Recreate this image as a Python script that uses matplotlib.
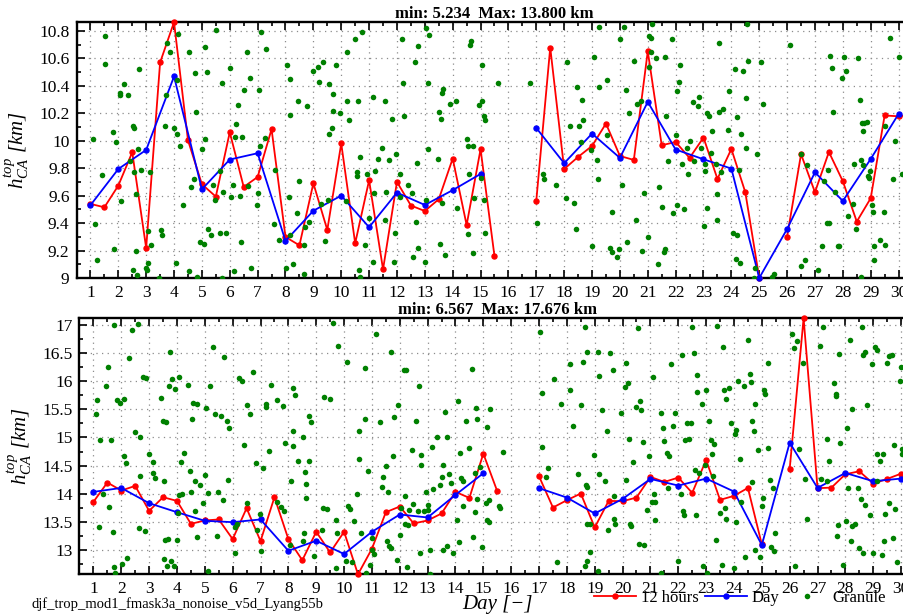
import numpy as np
import matplotlib
matplotlib.use("Agg")
import matplotlib.pyplot as plt
from matplotlib.ticker import MultipleLocator, FuncFormatter
from matplotlib.lines import Line2D

plt.rcParams['font.family'] = ['Liberation Serif', 'DejaVu Serif']
plt.rcParams['mathtext.fontset'] = 'custom'
plt.rcParams['mathtext.rm'] = 'Liberation Serif'
plt.rcParams['mathtext.it'] = 'Liberation Serif:italic'
plt.rcParams['mathtext.bf'] = 'Liberation Serif:bold'

nan = np.nan

# ---------------- data ----------------
day_ticks = list(range(1, 31))
half_days = np.arange(1, 31, 0.5)      # 12-hour bins: 1.0 ... 30.5
full_days = np.arange(1, 31)           # daily bins: 1 ... 30

title_top = "min: 5.234  Max: 13.800 km"
title_bot = "min: 6.567  Max: 17.676 km"
run_name = "djf_trop_mod1_fmask3a_nonoise_v5d_Lyang55b"

# upper panel: 12-hour means
h12_top = [9.54, 9.515, 9.673, 9.916, 9.219, 10.57, 10.864, 10.004, 9.683, 9.593,
           10.062, 9.663, 9.736, 10.084, 9.299, 9.238, 9.69, 9.35, 9.98, 9.253,
           9.712, 9.063, 9.70, 9.528, 9.488, 9.574, 9.87, 9.386, 9.938, 9.158,
           nan, nan, 9.564, 10.679, 9.794, 9.882, 9.962, 10.125, 9.889, 9.86,
           10.652, 9.967, 9.991, 9.875, 10.023, 9.722, 9.94, 9.625, 9.0, nan,
           9.301, 9.902, 9.625, 9.918, 9.705, 9.411, 9.581, 10.184, 10.178, 10.19]
# upper panel: daily means
day_top = [9.53, 9.794, 9.933, 10.468, 9.646, 9.863, 9.909, 9.27, 9.49, 9.60,
           9.37, 9.622, 9.532, 9.64, 9.758, nan, 10.093, 9.836, 10.052, 9.875,
           10.283, 9.936, 9.865, 9.797, 9.0, 9.357, 9.77, 9.561, 9.867, 10.195]

# lower panel: 12-hour means
h12_bot = [13.856, 14.2, 14.058, 14.14, 13.697, 13.939, 13.874, 13.466, 13.526, 13.544,
           13.195, 13.744, 13.16, 13.939, 13.195, 12.82, 13.325, 12.958, 13.325, 12.57,
           13.024, 13.673, 13.774, 13.473, 13.526, 13.65, 14.034, 13.927, 14.713, 14.046,
           nan, nan, 14.311, 13.756, 13.886, 14.005, 13.402, 13.874, 13.868, 13.933,
           14.3, 14.21, 14.288, 14.016, 14.6, 13.892, 13.963, 14.104, 13.1, nan,
           14.44, 17.117, 14.099, 14.11, 14.347, 14.4, 14.181, 14.264, 14.358, 14.3]
# lower panel: daily means
day_bot = [14.034, 14.104, 13.833, 13.673, 13.52, 13.496, 13.544, 12.988, 13.166, 12.93,
           13.325, 13.632, 13.579, 13.98, 14.365, nan, 14.1, 13.933, 13.65, 13.909,
           14.264, 14.146, 14.27, 14.04, 13.089, 14.908, 14.104, 14.37, 14.223, 14.27]

# granule values (day, height in km)
gran_top = [
    (1.11,10.01),(1.17,9.39),(1.23,9.13),(1.51,10.76),(1.53,10.56),(1.42,9.75),(1.81,10.06),(1.92,9.99),
    (1.86,9.21),(2.06,10.35),(2.06,10.33),(2.21,10.41),(2.11,9.56),(2.36,10.33),(2.41,9.85),(2.51,10.11),
    (2.57,10.09),(2.56,9.77),(2.62,9.61),(2.62,9.20),(2.51,9.06),(2.66,9.02),(2.76,10.52),(2.71,9.94),
    (2.82,9.79),(3.12,9.77),(3.06,9.34),(3.17,9.24),(2.99,9.07),(3.03,9.06),(3.06,9.11),(3.45,9.0),
    (3.52,9.35),(3.57,9.31),(3.66,10.11),(3.72,10.33),(3.76,10.71),(3.86,10.65),(4.16,10.78),(4.00,10.09),
    (4.10,10.05),(4.12,10.44),(4.22,9.96),(4.06,9.11),(4.31,9.53),(4.55,10.65),(4.61,9.66),(4.55,9.05),
    (4.70,9.72),(4.77,10.49),(4.78,10.21),(4.82,9.01),(4.94,9.26),(5.01,9.94),(5.06,9.25),(5.11,10.01),
    (5.11,10.68),(5.17,10.50),(5.22,9.36),(5.32,9.31),(5.51,10.81),(5.41,9.68),(5.46,9.57),(5.65,9.78),
    (5.71,10.42),(5.65,9.33),(5.75,9.63),(5.71,9.0),(5.87,9.33),(6.02,10.53),(6.06,9.59),(6.11,9.68),
    (6.17,10.03),(6.22,10.12),(6.16,9.05),(6.31,10.26),(6.37,9.60),(6.41,9.26),(6.45,10.03),(6.51,10.37),
    (6.61,10.65),(6.66,9.67),(6.72,10.46),(6.75,9.07),(6.97,9.53),(7.03,9.62),(7.08,9.96),(7.06,10.37),
    (7.11,10.79),(7.30,10.67),(7.28,10.02),(7.57,9.39),(7.63,9.79),(7.76,9.28),(8.01,9.07),(8.07,10.55),
    (8.12,9.59),(8.17,10.45),(8.17,10.19),(8.15,9.31),(8.28,9.10),(8.40,9.47),(8.46,10.29),(8.49,9.71),
    (8.76,10.25),(8.70,9.37),(8.66,9.24),(8.66,9.03),(9.0,10.51),(9.18,10.54),(9.36,10.57),(9.21,10.43),
    (9.26,9.54),(9.42,9.27),(9.51,9.57),(8.85,9.41),(9.57,10.05),(9.66,10.09),(9.72,10.34),(9.57,10.41),
    (9.72,10.22),(9.81,10.55),(9.96,10.20),(10.16,9.56),(10.22,10.29),(10.22,10.65),(10.27,10.15),(10.51,10.74),
    (10.76,10.79),(10.61,10.29),(10.67,9.88),(10.55,9.77),(10.58,9.74),(10.63,9.06),(10.67,9.01),(10.86,9.24),
    (10.91,9.76),(11.01,9.44),(11.15,10.32),(11.18,9.62),(11.21,9.78),(11.13,9.12),(11.31,9.87),(11.46,9.95),
    (11.57,10.29),(11.56,9.42),(11.61,9.63),(11.71,9.86),(11.82,10.16),(11.89,9.12),(11.93,9.33),(11.96,9.90),
    (12.11,9.76),(12.11,9.59),(12.17,10.74),(12.23,10.42),(12.26,10.18),(12.41,9.68),(12.55,9.62),(12.56,9.15),
    (12.66,10.57),(12.67,9.41),(12.71,9.84),(12.75,10.69),(12.75,9.22),(13.0,9.12),(13.04,9.57),(13.05,10.82),
    (13.16,10.77),(13.11,10.42),(13.11,9.94),(13.46,9.87),(13.52,10.21),(13.57,10.16),(13.60,10.35),(13.66,10.38),
    (13.56,9.25),(13.62,9.55),(13.71,9.17),(13.91,10.27),(14.12,10.29),(14.17,9.51),(14.50,10.01),(14.56,9.96),
    (14.72,9.96),(14.60,9.76),(14.56,9.32),(14.61,10.70),(14.66,10.73),(14.72,9.18),(14.76,9.58),(14.94,10.26),
    (15.02,9.73),(15.06,10.55),(15.06,10.29),(15.12,10.18),(15.17,10.15),(15.11,9.57),(15.16,9.33),(15.63,10.42),
    (16.77,10.42),(17.01,9.40),(17.25,9.76),(17.28,9.72),(17.71,9.68),(18.09,10.57),(18.05,9.58),(18.21,10.11),
    (18.36,9.55),(18.42,9.36),(18.45,10.39),(18.54,10.11),(18.63,10.30),(18.66,10.15),(18.60,9.99),(18.95,9.93),
    (19.01,9.23),(19.07,10.61),(19.18,9.86),(19.20,9.72),(19.25,10.83),(19.25,10.39),
    (19.52,10.44),(19.55,10.04),(19.70,9.48),(19.64,9.22),(19.73,9.19),(19.97,9.21),(19.91,9.15),(20.0,10.74),
    (20.16,10.83),(20.22,10.37),(20.06,9.68),(20.31,10.20),(20.27,9.26),(20.51,10.58),(20.57,9.42),(20.60,10.27),
    (20.74,10.29),(20.86,9.62),(20.80,9.20),(21.06,10.76),(21.10,10.75),(21.14,10.85),(21.10,10.65),(21.06,10.54),
    (21.02,9.30),(21.29,10.60),(21.41,9.66),(21.51,9.52),(21.35,9.10),(21.58,9.19),(21.62,9.21),(21.63,10.61),
    (21.65,10.18),(21.73,9.85),(21.87,10.74),(21.90,9.47),(22.01,10.04),(22.04,10.36),(22.06,9.53),(22.12,10.43),
    (22.16,10.55),(22.22,9.83),(22.31,9.50),(22.42,9.95),(22.46,9.76),(22.50,10.0),(22.61,10.28),(22.66,9.85),
    (22.81,10.25),(22.85,10.32),(22.90,9.95),(23.02,9.38),(23.06,9.78),(23.06,9.83),(23.11,9.51),(23.14,10.20),
    (23.21,10.18),(23.27,9.91),(23.32,10.07),(23.45,9.83),(23.50,9.61),(23.50,9.42),(23.56,10.71),(23.56,10.21),
    (23.62,9.77),(23.71,10.23),(23.87,10.08),(23.91,10.36),(24.05,9.33),(24.13,10.52),(24.19,10.17),(24.21,9.31),
    (24.17,9.14),(24.27,9.79),(24.31,9.11),(24.36,10.05),(24.40,10.51),(24.51,9.95),(24.52,10.31),(24.55,10.85),
    (24.61,10.58),(24.81,9.0),(24.86,9.07),(24.91,9.90),(25.06,10.57),(25.15,10.27),(25.47,9.01),(25.53,9.03),
    (26.10,10.70),(26.50,9.90),(26.70,9.82),(26.51,9.09),(26.65,9.13),(27.11,9.06),(27.25,9.23),(27.32,9.71),
    (27.44,9.40),(27.52,9.40),(27.47,9.79),(27.55,10.62),(27.61,10.53),(27.66,10.21),(27.72,9.63),(27.81,9.23),
    (27.85,9.23),(27.97,10.46),(28.05,10.61),(28.11,10.51),(28.20,9.45),(28.35,9.54),(28.40,9.83),(28.47,9.36),
    (28.56,10.60),(28.60,10.30),(28.65,9.86),(28.69,10.13),(28.74,9.82),(28.76,10.13),(28.71,10.07),(28.85,10.14),
    (28.90,9.74),(28.93,9.73),(28.97,9.78),(29.03,9.53),(29.09,9.48),(29.12,9.23),(29.12,9.13),(29.33,9.28),
    (29.48,9.48),(29.51,9.24),(29.52,10.11),(29.69,10.75),(29.81,9.72),(29.86,10.0),(30.03,10.61),(30.11,9.76),
    (28.65,9.01),
]

gran_bot = [
    (1.74,17.0),(2.59,17.01),(2.39,16.91),(2.29,16.41),(1.53,16.26),(1.44,15.92),(1.14,15.66),(1.09,15.42),
    (1.23,14.95),(1.64,14.96),(1.19,13.41),(1.56,13.76),(1.33,14.0),(1.70,13.32),(1.75,12.70),(1.79,12.59),
    (1.83,15.67),(1.94,15.61),(2.09,15.69),(2.09,14.68),(2.18,14.54),(2.19,12.86),(2.03,12.76),(2.49,15.10),
    (2.68,15.0),(2.67,14.31),(2.64,13.40),(2.84,13.34),(2.78,16.08),(2.87,16.05),(2.98,14.71),(3.14,14.56),
    (3.14,14.37),(3.22,14.28),(3.44,15.70),(3.50,15.30),(3.61,15.27),(3.53,14.23),(3.54,12.85),(3.58,13.18),
    (3.66,13.19),(3.63,12.72),(3.72,15.92),(3.75,16.51),(3.82,16.04),(3.93,15.86),(3.80,12.80),(3.89,12.72),
    (3.99,13.18),(4.02,13.65),(4.07,13.98),(4.18,13.99),(4.09,16.08),(4.13,14.57),(4.27,14.73),(4.38,15.93),
    (4.48,14.40),(4.52,14.04),(4.54,15.32),(4.58,15.62),(4.64,14.23),(4.63,13.70),(4.73,15.60),(4.73,13.24),
    (4.84,14.16),(4.93,13.83),(4.99,14.33),(5.06,15.53),(5.13,14.02),(5.13,12.63),(5.18,15.91),(5.28,16.60),
    (5.37,15.42),(5.43,13.25),(5.48,14.03),(5.58,15.39),(5.67,13.89),(5.68,16.43),(5.78,15.30),(5.85,14.24),
    (5.88,15.16),(6.07,12.95),(6.09,13.41),(6.14,13.46),(6.21,16.06),(6.33,16.01),(6.39,14.86),(6.52,15.58),
    (6.51,13.84),(6.64,15.42),(6.74,16.17),(6.82,14.55),(6.88,13.35),(6.98,13.64),(7.00,12.99),(7.10,14.46),
    (7.18,15.54),(7.18,15.60),(7.29,14.76),(7.38,15.93),(7.58,15.66),(7.58,13.86),(7.73,13.76),(7.80,15.56),
    (7.83,13.70),(7.89,14.90),(8.06,13.09),(8.09,14.22),(8.18,15.88),(8.24,15.76),(8.16,15.11),(8.18,14.85),
    (8.36,14.59),
    (8.53,15.0),(8.59,14.38),(8.64,14.18),(8.63,13.92),(8.74,14.59),(8.74,15.38),(8.83,15.27),(8.56,13.30),
    (8.54,13.17),(8.93,12.89),(9.19,13.36),(9.28,15.72),(9.49,15.68),(9.24,13.74),(9.40,13.73),(9.61,17.03),
    (9.79,16.63),(9.70,13.53),(9.70,12.68),(9.76,13.30),(10.09,16.34),(10.13,13.79),(10.23,13.73),(10.07,12.80),
    (10.28,12.78),(10.35,13.52),(10.45,14.0),(10.55,14.61),(10.55,15.11),(10.59,13.31),(10.75,16.24),(10.75,15.33),
    (10.85,14.41),(10.80,12.60),(10.93,12.73),(11.02,13.21),(10.99,13.0),(11.07,12.93),(11.16,16.83),(11.29,15.27),
    (11.35,14.12),(11.38,14.29),(11.49,14.49),(11.59,14.03),(11.55,13.17),(11.62,13.07),(11.67,13.03),(11.74,14.67),
    (11.68,16.51),(11.80,15.36),(11.95,15.58),(11.89,12.82),(12.01,13.27),(12.04,13.74),(12.15,16.19),(12.22,16.20),
    (12.20,13.96),(12.20,13.46),(12.30,13.45),(12.25,12.70),(12.34,13.71),(12.44,14.77),(12.48,13.82),(12.58,15.29),
    (12.64,13.70),(12.69,15.92),(12.74,12.95),(12.78,14.69),(12.78,14.51),(12.88,13.70),(12.94,14.03),(13.02,13.80),
    (13.0,13.71),(13.08,13.0),(13.10,12.57),(13.14,14.83),(13.20,14.08),(13.35,15.0),(13.44,14.15),(13.50,14.29),
    (13.56,14.52),(13.56,13.0),(13.63,15.46),(13.68,15.0),(13.69,13.08),(13.75,14.36),(13.84,14.19),(13.90,12.95),
    (14.04,13.53),(14.09,15.65),(14.14,13.15),(14.18,14.72),(14.21,14.28),(14.26,14.23),(14.28,13.78),(14.38,15.29),
    (14.48,14.82),(14.58,16.21),(14.63,13.23),(14.69,14.37),(14.72,15.53),(14.69,13.68),(14.78,15.32),(14.76,13.90),
    (14.89,14.47),(14.94,13.05),(15.09,13.84),(15.13,15.18),(15.14,13.53),(15.20,13.89),(15.24,15.50),(15.20,13.50),
    (15.55,13.79),(15.59,13.74),(15.69,14.74),(17.03,16.88),(17.12,14.83),(17.11,15.79),(17.25,14.29),(17.33,14.45),
    (17.54,16.04),(17.63,12.79),(17.79,15.59),(18.10,16.30),(18.13,15.85),(18.21,15.20),(18.39,14.36),(18.49,15.58),
    (18.59,16.34),(18.65,16.96),(18.67,14.16),(18.73,16.51),(18.73,14.12),(18.73,13.47),(18.71,12.81),(18.65,12.72),
    (18.83,12.96),(18.83,13.47),(18.97,14.69),(19.10,16.51),(19.16,16.10),(19.15,14.36),(19.13,12.62),
    (19.55,16.50),(19.64,16.20),(19.25,15.48),(19.45,15.11),(19.37,14.22),(19.69,13.96),(19.69,13.56),(19.73,13.46),
    (19.49,13.35),(19.95,15.43),(20.08,15.89),(20.14,16.33),(20.18,15.97),(20.14,14.25),(20.22,14.98),(20.26,13.46),
    (20.30,13.43),(20.38,14.57),(20.50,15.55),(20.54,16.94),(20.62,15.65),(20.65,15.49),(20.60,13.10),(20.78,13.09),
    (20.72,14.92),(20.86,13.71),(20.96,14.67),(21.08,16.08),(21.13,13.99),(21.04,13.86),(21.16,13.85),(21.15,13.53),
    (21.37,12.60),(21.38,15.44),(21.44,15.17),(21.48,14.93),(21.58,14.72),(21.68,14.67),(21.64,14.10),(21.74,16.31),
    (21.80,15.20),(21.89,15.43),(22.00,12.81),(22.08,14.0),(22.14,16.47),(22.18,13.70),(22.20,13.63),(22.24,14.96),
    (22.32,15.26),(22.39,14.97),(22.44,15.25),(22.49,16.96),(22.56,16.50),(22.60,14.43),(22.62,13.63),(22.66,15.80),
    (22.69,16.11),(22.75,14.37),(22.84,15.60),(22.90,12.72),(22.99,15.84),(23.10,15.30),(23.04,12.60),(22.97,14.52),
    (23.18,14.95),(23.21,14.70),(23.26,14.32),(23.29,14.88),(23.35,13.18),(23.40,16.98),(23.50,13.65),(23.57,12.73),
    (23.60,16.60),(23.64,15.84),(23.67,13.74),(23.71,13.56),(23.73,15.68),(23.81,15.88),(23.89,15.26),(24.0,12.68),
    (24.03,15.07),(24.07,15.13),(24.09,13.50),(24.14,16.0),(24.21,14.62),(24.25,13.85),(24.36,15.92),(24.40,12.88),
    (24.49,16.74),(24.56,16.12),(24.61,15.98),(24.64,14.21),(24.66,15.29),(24.72,15.11),(24.75,15.59),(24.74,13.0),
    (24.85,14.78),(24.94,12.88),(25.0,13.79),(25.04,13.93),(25.09,15.85),(25.12,15.78),(25.21,16.32),(25.21,14.82),
    (25.29,14.24),(25.34,13.06),(25.43,12.98),(25.49,13.31),(25.41,14.11),(26.08,16.83),(26.15,16.59),(26.25,16.71),
    (26.34,14.80),(26.20,12.72),(26.49,16.33),(26.54,14.27),(26.63,13.56),(27.09,16.63),(27.19,16.97),(27.13,14.26),
    (27.33,14.22),(27.35,14.98),(27.40,14.58),(27.59,15.97),(27.65,15.78),(27.68,15.74),(27.71,13.25),(27.75,13.44),
    (27.76,16.48),(27.80,14.90),(27.90,12.74),(28.02,13.51),(28.06,15.17),(28.09,14.10),(28.16,16.74),(28.19,13.17),
    (28.25,15.50),(28.25,13.43),(28.34,13.47),(28.44,14.11),(28.50,13.04),(28.55,13.90),(28.60,16.97),(28.62,16.46),
    (28.70,16.51),(28.70,13.80),(28.64,12.94),(28.79,15.58),(28.88,13.63),(28.95,16.31),(29.0,12.94),(29.07,16.61),
    (29.15,16.56),(29.15,14.22),(29.12,14.71),(29.24,14.58),(29.31,12.91),(29.36,14.70),(29.42,13.64),(29.40,13.16),
    (29.50,16.32),(29.55,16.44),(29.58,13.84),(29.67,16.46),(29.70,13.21),(29.74,14.87),(29.79,13.73),(29.86,12.79),
    (29.96,16.01),(30.0,16.25),(30.02,14.71),(30.05,14.79),
]

# ---------------- figure ----------------
W, H = 904, 615
fig = plt.figure(figsize=(W / 100, H / 100), dpi=100)
fig.patch.set_facecolor('white')

RED, BLUE, GREEN = '#ff0000', '#0000ff', '#008000'
fmt_g = FuncFormatter(lambda v, p: '%g' % round(v, 4))


def panel(rect, h12, hday, gran, ylim, ymaj, ymin, title):
    ax = fig.add_axes(rect)
    gd = [p[0] for p in gran]
    gh = [p[1] for p in gran]
    ax.plot(half_days, h12, color=RED, lw=1.3, marker='o', ms=3.6, mec=RED, zorder=3, clip_on=False)
    ax.plot(full_days, hday, color=BLUE, lw=1.3, marker='o', ms=3.6, mec=BLUE, zorder=4, clip_on=False)
    ax.plot(gd, gh, linestyle='none', marker='o', ms=4.0, color=GREEN, mec='none', zorder=5)
    ax.set_xlim(0.5, 30.5)
    ax.set_ylim(*ylim)
    ax.set_xticks(day_ticks)
    ax.xaxis.set_minor_locator(MultipleLocator(0.5))
    ax.yaxis.set_major_locator(MultipleLocator(ymaj))
    ax.yaxis.set_minor_locator(MultipleLocator(ymin))
    ax.yaxis.set_major_formatter(fmt_g)
    ax.tick_params(which='both', direction='in', top=True, right=True, labelsize=12.5, width=1.2)
    ax.tick_params(which='major', length=5.5, pad=5)
    ax.tick_params(which='minor', length=3)
    ax.grid(True, which='major', color='#8c8c8c', linestyle=(0, (1, 3.5)), linewidth=0.9)
    for s in ax.spines.values():
        s.set_linewidth(1.7)
    ax.set_title(title, fontweight='bold', fontsize=12, pad=2)
    ax.set_ylabel(r'$h^{top}_{CA}$ [km]', fontsize=15, style='italic')
    ax.yaxis.set_label_coords(-0.055, 0.5)
    return ax


ax1 = panel([76.5 / W, 1 - 278 / H, 836 / W, 256 / H], h12_top, day_top, gran_top,
            (9.0, 10.865), 0.2, 0.1, title_top)
ax2 = panel([79.5 / W, 1 - 574.3 / H, 835.5 / W, 256 / H], h12_bot, day_bot, gran_bot,
            (12.57, 17.117), 0.5, 0.25, title_bot)

fig.text(497 / W, 1 - 604 / H, 'Day [\u2212]', fontsize=15, style='italic', ha='center', va='center')
fig.text(32 / W, 1 - 604 / H, run_name, fontsize=10.5, ha='left', va='center')

handles = [
    Line2D([], [], color=RED, lw=1.3, marker='o', ms=3.6),
    Line2D([], [], color=BLUE, lw=1.3, marker='o', ms=3.6),
    Line2D([], [], color=GREEN, linestyle='none', marker='o', ms=4.0, mec='none'),
]
fig.legend(handles, ['12 hours', 'Day', 'Granule'], loc='center left',
           bbox_to_anchor=(594 / W, 1 - 598 / H), ncol=3, frameon=False, fontsize=12,
           handlelength=2.5, handletextpad=0.3, columnspacing=0.4,
           borderpad=0, borderaxespad=0)

fig.savefig('out.png', dpi=100)
